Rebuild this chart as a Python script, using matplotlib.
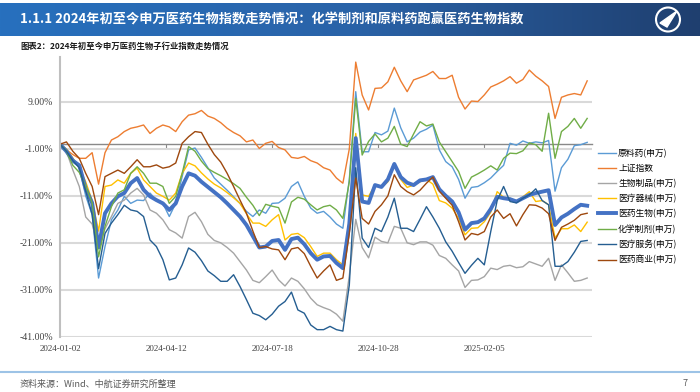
import numpy as np
import matplotlib.pyplot as plt
from matplotlib.lines import Line2D
from matplotlib.patches import Circle, Polygon
from matplotlib.colors import LinearSegmentedColormap

plt.rcParams['font.family'] = ['Noto Sans CJK SC', 'DejaVu Sans']

# trading-day index since 2024-01-02, sampled every 4th day
day_idx = np.arange(0, 329, 4)
tick_idx = [0, 66, 132, 198, 264]
tick_labels = ['2024-01-02', '2024-04-12', '2024-07-18', '2024-10-28', '2025-02-05']
y_ticks = [-41, -31, -21, -11, -1, 9]

# cumulative change, %
api = [0, -1.2, -3, -5, -11, -15, -28.5, -21.8, -16.1, -14,
       -11.1, -12.6, -11.9, -12, -10.4, -11.9, -12.6, -15.4, -12.6, -6.9,
       -1.2, -0.8, -2.8, -5, -7.2, -8.5, -9.8, -11.2, -12.6, -14.3,
       -15.4, -14, -14.7, -12.6, -12.5, -11.5, -9, -8, -11.1, -13.6,
       -14.7, -14.3, -15.5, -17, -17.9, -7.5, 11.2, -1.6, -1.6, 2.5,
       2, 2.8, 7.7, 3.5, 0.5, 1.3, 2.6, 3.2, 4.1, -1.2,
       -3.7, -4.8, -7.5, -11.5, -9.2, -9, -8.2, -7.2, -5.8, -4.5,
       0.2, -0.2, 0.7, 0.2, 0.5, 0.3, 0.8, -10, -5, -3.2,
       -0.3, -0.1, 0.4]
sse = [0, -1.2, -2.2, -3.0, -3.0, -1.8, -8.5, -1.8, 0.9, 1.6,
       2.7, 3.4, 3.7, 4.1, 2.3, 3.4, 4.1, 3.7, 2.7, 4.8,
       6.2, 6.5, 7.2, 6.0, 5.5, 4.6, 3.4, 2.5, 1.8, 0.5,
       0.9, -0.9, 0.2, 0.6, -0.7, -1.2, -2.8, -3.0, -2.6, -3.5,
       -4.0, -5.0, -5.5, -7.2, -8.3, -1.0, 17.5, 10.5, 7.3, 11.9,
       12.0, 13.3, 16.4, 13.5, 11.2, 13.7, 14.2, 14.7, 15.5, 14.0,
       14.0, 14.7, 10.0, 7.5, 9.2, 9.1, 10.5, 12.2, 12.8, 13.5,
       14.4, 13.0, 13.8, 15.8, 14.5, 13.5, 12.3, 5.5, 10.0, 10.5,
       10.8, 10.5, 13.5]
bio = [0, -1.5, -5.5, -9, -15.5, -17, -22, -18, -15.4, -12.6,
       -11.9, -10.4, -9.4, -10.8, -14, -14.7, -16.1, -18.2, -18.9, -20,
       -15.4, -14.5, -16.5, -19.2, -20.5, -21, -22, -23.2, -25, -26.8,
       -29, -29.5, -28.2, -26.8, -28.9, -30.2, -28.5, -29.2, -30.8, -32.8,
       -34.2, -34.8, -35.3, -36.2, -37.7, -28, -16, -22, -24.2, -19.8,
       -20.7, -21, -17.5, -17.9, -21, -21.4, -20.8, -20.8, -21.5, -23.7,
       -24.3, -25.7, -27, -30.5, -29, -28.9, -28.2, -26.4, -26.7, -26,
       -25.8, -26.3, -26.1, -25, -25.5, -26, -24.3, -29, -25.7, -27.4,
       -29.2, -29, -28.5]
device = [0, -1, -3, -5, -8, -12, -18.5, -9, -8.7, -7.6,
          -8.3, -6.2, -5.1, -7.6, -9, -10.4, -11.1, -11.9, -10.4, -6.2,
          -4, -4.6, -6.1, -7.4, -8.5, -9.3, -10.3, -11.4, -12.6, -14.8,
          -16.8, -16.8, -17.5, -16.1, -15, -20.4, -19.2, -19, -19.9, -21.8,
          -23.9, -23.2, -23.2, -24.6, -25.7, -16, 2.3, -10.8, -11.1, -8.7,
          -9.2, -8, -4.5, -7.5, -9.2, -8.7, -8, -7.5, -8.5, -12,
          -12.5, -13.6, -15.8, -19.3, -17.9, -17.8, -16.5, -14.5, -10.1, -11.3,
          -11.5, -12.2, -11.2, -10.1, -12.2, -12, -12.9, -20, -18, -18,
          -17.2, -18.6, -16.6]
pharma = [0, -1.5, -3.5, -4.5, -9.5, -12.5, -22, -14.7, -12.6, -11.1,
          -10.4, -8.3, -7.2, -9.7, -11.1, -11.9, -12.6, -14, -12.6, -9,
          -6.2, -6.7, -8, -9.1, -10.2, -11.3, -12.6, -14, -15.4, -17.2,
          -19.6, -22, -21.8, -20.6, -20.4, -22.5, -20.2, -19.9, -21.3, -23.2,
          -24.6, -23.9, -23.8, -25.3, -26.4, -17, 1.3, -12.2, -12.5, -8.7,
          -9.1, -7.5, -4.2, -7, -8.2, -8.7, -7.7, -7.5, -7, -9.6,
          -11, -12.2, -14.5, -18.2, -16.8, -16.6, -15.8, -13.8, -11.2, -11.5,
          -11.7, -12.2, -11.5, -10.8, -10.4, -10.1, -9.8, -17.2, -15.6, -14.8,
          -13.8, -12.9, -13.1]
chem = [0, -1.5, -4.5, -6, -9, -12.5, -24, -17.5, -13.3, -10.4,
        -9.7, -6.2, -4.8, -6.2, -8.3, -8.3, -9, -12.6, -11.1, -6.2,
        -0.5, -1.5, -3.6, -5.2, -6, -6.7, -7.5, -8.4, -9.4, -11.3,
        -13, -15.2, -12.8, -13.2, -13.5, -16.8, -12.3, -11.3, -11.7, -12.9,
        -14, -13.3, -13, -14, -15.8, -8, 9.8, -2.3, 0.6, 2.2,
        0.5, 1.3, 3.8, 0, -0.5, 2.2, 4.8, 3.9, 4.3, 0.5,
        -1.6, -3.7, -5.8, -9.4, -7, -6.3, -5.5, -4.6, -5.5, -3,
        -1.9, -2, -1.4, 0.3, -0.1, -1.5, 6.6, -3, 2.7, 3.8,
        5.5, 3.4, 5.5]
service = [0, -1.5, -3.5, -5, -10, -15, -26.5, -19, -16.8, -15,
           -13, -14, -14.3, -15.4, -20.4, -21.8, -24.6, -28.9, -28.5, -25.7,
           -22.1, -23, -24.8, -27, -28, -29.2, -29.2, -27.8, -30.3, -33.1,
           -36, -36.5, -37.4, -36.2, -34.5, -33.5, -31.5, -35.3, -36, -38.5,
           -39.5, -39.5, -38.8, -39.5, -39.8, -30, -5, -20, -22, -17.9,
           -18.6, -15.5, -11.5, -17.9, -17.9, -18.6, -16, -13.3, -15.5, -17.9,
           -20.8, -22.8, -25.2, -27.5, -25.8, -24.3, -25.7, -18.6, -12, -9,
           -12.2, -12.5, -11.5, -10.8, -9.5, -12, -12.9, -26, -26, -25,
           -23, -20.7, -20.5]
trade = [0, 0.5, -1.5, -3, -6.2, -9, -15, -6.9, -6.2, -5.5,
         -6.2, -4.8, -3.3, -4.8, -4.8, -4.4, -5.1, -4.8, -4, 0.2,
         1.6, 2.7, 2.5, 0, -2.2, -3.8, -6.2, -9, -11.9, -14.7,
         -18.5, -22, -21.8, -22.3, -22.5, -24.6, -22.3, -22, -23.3, -26,
         -28.5, -27, -25.7, -29, -28.5, -19, -7.2, -15.8, -17, -14.3,
         -12.9, -11, -6.5, -9, -10.1, -10.8, -9.8, -8.3, -7, -10,
         -11.5, -13, -16.5, -20.4, -19, -19.3, -18.6, -15.5, -14, -15.8,
         -14.8, -17.4, -15, -12.9, -13, -13.6, -14.8, -20.5, -17.7, -17,
         -16.2, -15, -14.7]

names = ['原料药(申万)', '上证指数', '生物制品(申万)', '医疗器械(申万)',
         '医药生物(申万)', '化学制剂(申万)', '医疗服务(申万)', '医药商业(申万)']
series = [api, sse, bio, device, pharma, chem, service, trade]
colors = ['#5B9BD5', '#ED7D31', '#A5A5A5', '#FFC000',
          '#4472C4', '#70AD47', '#255E91', '#9E480E']
widths = [1.0, 1.0, 1.0, 1.0, 2.8, 1.0, 1.0, 1.0]

fig = plt.figure(figsize=(7, 3.92), dpi=100)

# header bar
hax = fig.add_axes([0, 1 - 36 / 392, 1, 33 / 392])
cmap = LinearSegmentedColormap.from_list('hdr', ['#2770BE', '#2A63A8', '#1F3F6F'])
hax.imshow(np.linspace(0, 1, 256)[None, :], aspect='auto', cmap=cmap, extent=[0, 700, 0, 33])
hax.set_xlim(0, 700)
hax.set_ylim(0, 33)
hax.axis('off')
hax.text(20, 16.5, '1.1.1 2024年初至今申万医药生物指数走势情况：化学制剂和原料药跑赢医药生物指数',
         color='white', fontsize=9.5, fontweight='bold', va='center')
hax.add_patch(Circle((668, 16.5), 12, fill=False, ec='white', lw=1.5))
hax.add_patch(Polygon([[660, 13], [677, 25], [667, 9]], closed=True, color='white'))

fig.text(20 / 700, 1 - 46 / 392, '图表2：2024年初至今申万医药生物子行业指数走势情况',
         fontsize=6, fontweight='bold', color='#1a1a1a', va='center')

ax = fig.add_axes([60 / 700, 1 - 336.7 / 392, 532 / 700, (336.7 - 57.4) / 392])
for name, vals, c, w in zip(names, series, colors, widths):
    ax.plot(day_idx, vals, color=c, lw=w, label=name, solid_joinstyle='round')

ymin, ymax = -41, 18.5
ax.set_ylim(ymin, ymax)
ax.set_xlim(0, 331)
ax.set_yticks(y_ticks)
ax.set_yticklabels([f'{v:.2f}%' for v in y_ticks], family='Liberation Serif',
                   fontsize=7, color='#404040')
ax.set_xticks(tick_idx)
ax.set_xticklabels(tick_labels, family='Liberation Serif', fontsize=6.5, color='#404040')
ax.tick_params(axis='both', length=0)
ax.tick_params(axis='y', pad=5)
ax.tick_params(axis='x', pad=6)
ax.grid(axis='y', color='#D9D9D9', lw=1.5)
ax.set_axisbelow(True)
for s in ['top', 'right', 'bottom']:
    ax.spines[s].set_visible(False)
ax.spines['left'].set_color('#BFBFBF')
ax.spines['left'].set_linewidth(1.5)

# horizontal axis crossing at 0 with tick marks
sec = ax.secondary_xaxis((0 - ymin) / (ymax - ymin))
sec.set_alignment('bottom')
sec.set_xticks(tick_idx)
sec.tick_params(axis='x', length=3, color='#898989', labelbottom=False, labeltop=False)
sec.spines['bottom'].set_color('#898989')
sec.spines['bottom'].set_linewidth(1.0)

ax.legend(loc='upper left', bbox_to_anchor=(598 / 700, 1 - 149 / 392),
          bbox_transform=fig.transFigure, frameon=False, fontsize=6.3,
          handlelength=2.0, handletextpad=0.3, labelspacing=0.68,
          borderpad=0, borderaxespad=0)

# footer
fig.add_artist(Line2D([0, 1], [1 - 372 / 392] * 2, color='#9DC3E6', lw=1.5))
fig.text(20 / 700, 1 - 384 / 392, '资料来源：Wind、中航证券研究所整理', fontsize=6.5,
         color='#595959', va='center')
fig.text(683 / 700, 1 - 384 / 392, '7', fontsize=6.5, color='#595959', va='center')

fig.savefig('out.png', dpi=100)
